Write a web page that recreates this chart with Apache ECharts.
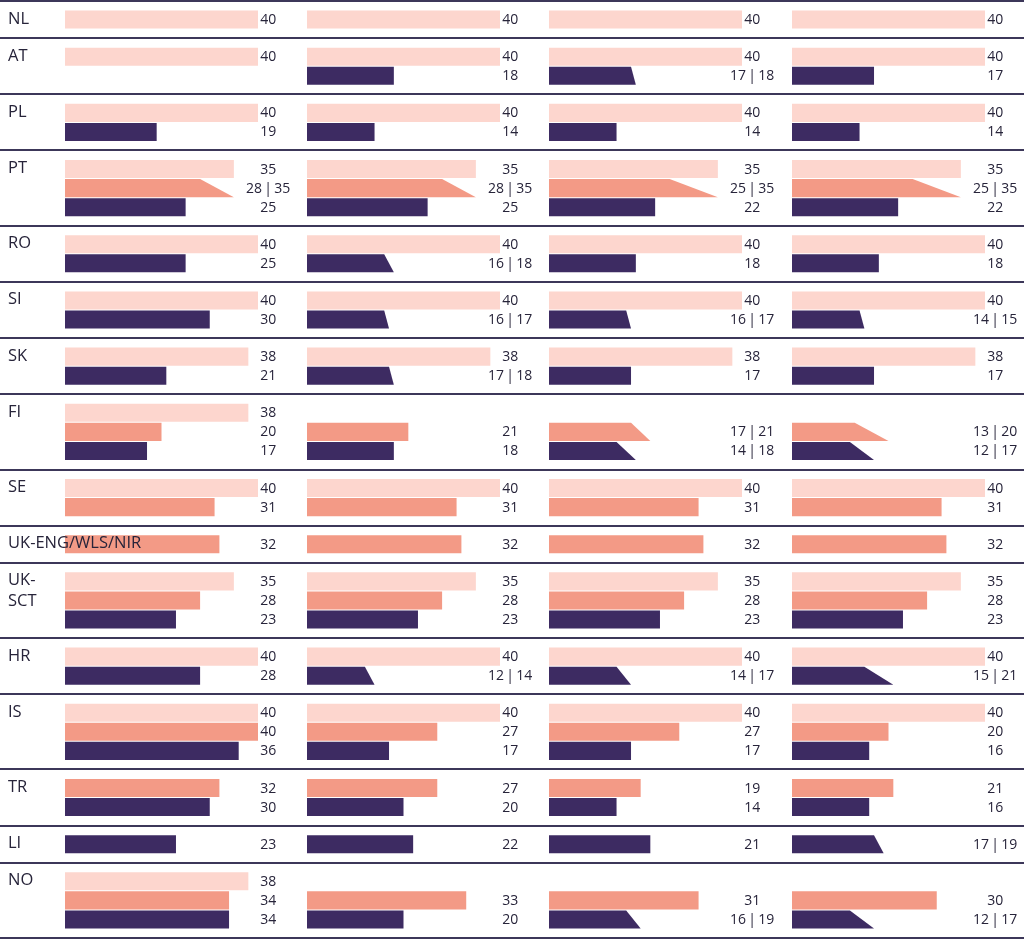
<!DOCTYPE html>
<html>
<head>
<meta charset="utf-8">
<script src="https://cdn.jsdelivr.net/npm/echarts@6/dist/echarts.min.js"></script>
<style>
html,body{margin:0;padding:0;background:#ffffff;}
#chart{width:1024px;height:940px;}
</style>
</head>
<body>
<div id="chart"></div>
<script>
// ---- DATA ----
const countries = ['NL','AT','PL','PT','RO','SI','SK','FI','SE','UK-ENG/WLS/NIR','UK-\nSCT','HR','IS','TR','LI','NO'];
const columns = [0, 1, 2, 3];
const N = null;
// values per country row, 4 columns; [lo, hi] marks a range
const lightPink = [
  [40,40,40,40],
  [40,40,40,40],
  [40,40,40,40],
  [35,35,35,35],
  [40,40,40,40],
  [40,40,40,40],
  [38,38,38,38],
  [38,N,N,N],
  [40,40,40,40],
  [N,N,N,N],
  [35,35,35,35],
  [40,40,40,40],
  [40,40,40,40],
  [N,N,N,N],
  [N,N,N,N],
  [38,N,N,N]
];
const salmon = [
  [N,N,N,N],
  [N,N,N,N],
  [N,N,N,N],
  [[28,35],[28,35],[25,35],[25,35]],
  [N,N,N,N],
  [N,N,N,N],
  [N,N,N,N],
  [20,21,[17,21],[13,20]],
  [31,31,31,31],
  [32,32,32,32],
  [28,28,28,28],
  [N,N,N,N],
  [40,27,27,20],
  [32,27,19,21],
  [N,N,N,N],
  [34,33,31,30]
];
const purple = [
  [N,N,N,N],
  [N,18,[17,18],17],
  [19,14,14,14],
  [25,25,22,22],
  [25,[16,18],18,18],
  [30,[16,17],[16,17],[14,15]],
  [21,[17,18],17,17],
  [17,18,[14,18],[12,17]],
  [N,N,N,N],
  [N,N,N,N],
  [23,23,23,23],
  [28,[12,14],[14,17],[15,21]],
  [36,17,17,16],
  [30,20,14,16],
  [23,22,21,[17,19]],
  [34,20,[16,19],[12,17]]
];

// ---- LAYOUT (derived) ----
const seriesSets = [lightPink, salmon, purple];
const colors = ['#fdd6ce', '#f39a86', '#3d2b62'];
const PAD = 18 / 19; // row padding in slot units
const rowStart = [];
const rowSlots = [];
let acc = 0;
countries.forEach((c, r) => {
  rowStart.push(acc);
  const types = [];
  seriesSets.forEach((s, t) => { if (s[r].some(v => v !== null)) types.push(t); });
  rowSlots.push(types);
  acc += types.length + PAD;
});
const total = acc;
const boundaries = rowStart.concat([total]);

function colData(col) {
  const out = [];
  countries.forEach((c, r) => {
    rowSlots[r].forEach((t, k) => {
      const v = seriesSets[t][r][col];
      if (v === null) return;
      const lo = Array.isArray(v) ? v[0] : v;
      const hi = Array.isArray(v) ? v[1] : v;
      out.push([rowStart[r] + PAD / 2 + k, lo, hi, t]);
    });
  });
  return out;
}

const TEXT = '#27243a';
const FONT = '"Open Sans", "Noto Sans", sans-serif';
const colLeft = [65, 307, 549, 792];

const grids = columns.map(i => ({ left: colLeft[i], width: 193, top: 1, height: 937 }));
const xAxes = columns.map(i => ({ type: 'value', gridIndex: i, min: 0, max: 40, show: false }));
const yAxes = columns.map(i => ({ type: 'value', gridIndex: i, min: 0, max: total, inverse: true, show: false }));

function renderBar(params, api) {
  const y0 = api.value(0), lo = api.value(1), hi = api.value(2), t = api.value(3);
  const p0 = api.coord([0, y0]);
  const pitch = api.size([0, 1])[1];
  const top = p0[1] + 0.5, bottom = p0[1] + pitch - 0.5;
  const xLo = api.coord([lo, y0])[0];
  const xHi = api.coord([hi, y0])[0];
  const children = [];
  if (lo === hi) {
    children.push({ type: 'rect', shape: { x: p0[0], y: top, width: xLo - p0[0], height: bottom - top }, style: { fill: colors[t] } });
  } else {
    children.push({ type: 'polygon', shape: { points: [[p0[0], top], [xLo, top], [xHi, bottom], [p0[0], bottom]] }, style: { fill: colors[t] } });
  }
  const lp = api.coord([42.1, y0 + 0.5]);
  children.push({
    type: 'text', z2: 5,
    style: { x: lp[0], y: lp[1] + 0.5, text: lo === hi ? String(lo) : lo + '\u2009|\u2009' + hi, fill: TEXT, font: '14px ' + FONT, align: 'center', verticalAlign: 'middle' }
  });
  return { type: 'group', children };
}

const series = columns.map(i => ({
  type: 'custom', xAxisIndex: i, yAxisIndex: i, data: colData(i), renderItem: renderBar, silent: true, z: 2
}));

// separator lines
series.push({
  type: 'custom', xAxisIndex: 0, yAxisIndex: 0, silent: true, z: 3,
  data: boundaries.map(b => [0, b]),
  renderItem: (params, api) => {
    const y = Math.round(api.coord([0, api.value(1)])[1]);
    return { type: 'line', shape: { x1: 0, y1: y, x2: api.getWidth(), y2: y }, style: { stroke: '#3c3759', lineWidth: 2 } };
  }
});

// country labels
series.push({
  type: 'custom', xAxisIndex: 0, yAxisIndex: 0, silent: true, z: 4,
  data: countries.map((c, r) => [r, rowStart[r] + PAD / 2 + 0.5]),
  renderItem: (params, api) => {
    const r = api.value(0);
    const y = api.coord([0, api.value(1)])[1];
    return { type: 'text', style: { x: 8, y: y - 11, text: countries[r], fill: TEXT, font: '16.5px ' + FONT, lineHeight: 20.5, align: 'left', verticalAlign: 'top' } };
  }
});

const chart = echarts.init(document.getElementById('chart'), null, { renderer: 'canvas' });
chart.setOption({
  animation: false,
  backgroundColor: '#ffffff',
  grid: grids,
  xAxis: xAxes,
  yAxis: yAxes,
  series: series
});
</script>
</body>
</html>
